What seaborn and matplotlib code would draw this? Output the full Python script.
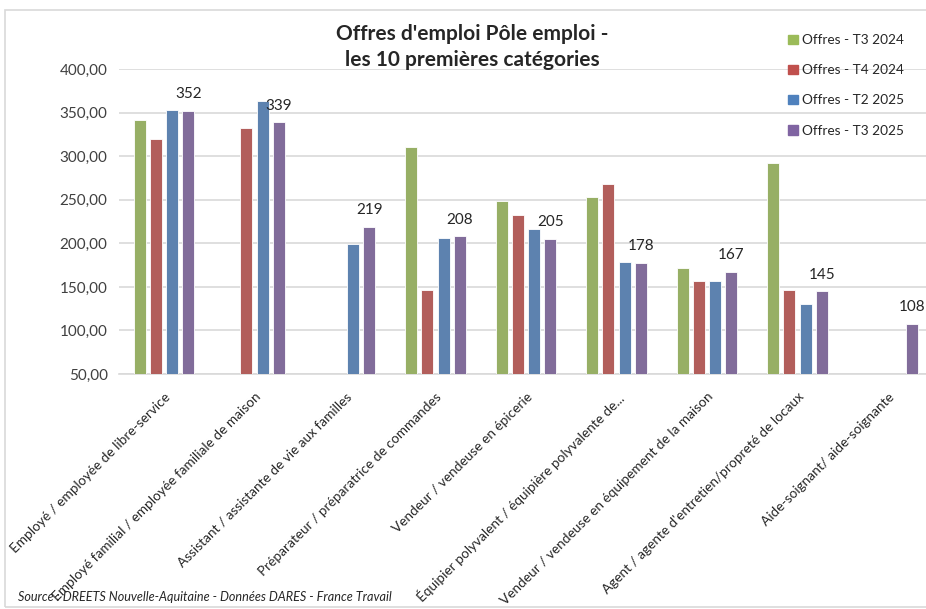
import numpy as np
import pandas as pd
import matplotlib
matplotlib.use("Agg")
import matplotlib.pyplot as plt
import seaborn as sns
from matplotlib.patches import Rectangle

categories = [
    "Employé / employée de libre-service",
    "Employé familial / employée familiale de maison",
    "Assistant / assistante de vie aux familles",
    "Préparateur / préparatrice de commandes",
    "Vendeur / vendeuse en épicerie",
    "Équipier polyvalent / équipière polyvalente de...",
    "Vendeur / vendeuse en équipement de la maison",
    "Agent / agente d'entretien/propreté de locaux",
    "Aide-soignant/ aide-soignante",
]
series = ["Offres - T3 2024", "Offres - T4 2024", "Offres - T2 2025", "Offres - T3 2025"]
t3_2024 = [342, np.nan, np.nan, 311, 249, 253, 172, 292, np.nan]
t4_2024 = [320, 333, np.nan, 146, 233, 268, 157, 146, np.nan]
t2_2025 = [353, 364, 199, 206, 216, 179, 157, 130, np.nan]
t3_2025 = [352, 339, 219, 208, 205, 178, 167, 145, 108]
colors = ["#9BBB59", "#C0504D", "#4F81BD", "#8064A2"]
yticks = [50, 100, 150, 200, 250, 300, 350, 400]

rows = []
for s, vals in zip(series, [t3_2024, t4_2024, t2_2025, t3_2025]):
    for c, v in zip(categories, vals):
        if not np.isnan(v):
            rows.append({"cat": c, "serie": s, "val": v})
df = pd.DataFrame(rows)

sns.set_style("white")
plt.rcParams["font.family"] = ["Lato", "DejaVu Sans"]

fig = plt.figure(figsize=(9.26, 6.09), dpi=100)
ax = fig.add_axes([118.75 / 926, 1 - 374 / 609, (933.25 - 118.75) / 926, (374 - 69.3) / 609])

sns.barplot(data=df, x="cat", y="val", hue="serie", order=categories, hue_order=series,
            palette=colors, errorbar=None, width=0.72, gap=0.26, ax=ax,
            edgecolor="white", linewidth=0.6, zorder=3)

ax.set_ylim(50, 400)
ax.set_xlim(-0.5, 8.5)
ax.set_yticks(yticks)
ax.set_yticklabels([f"{v:.2f}".replace(".", ",") for v in yticks], fontsize=11, color="#404040")
ax.yaxis.grid(True, color="#d9d9d9", linewidth=1.2, zorder=0)
ax.set_axisbelow(True)
ax.set_xlabel("")
ax.set_ylabel("")
for sp in ["top", "right", "left"]:
    ax.spines[sp].set_visible(False)
ax.spines["bottom"].set_color("#d9d9d9")
ax.spines["bottom"].set_linewidth(1.2)
ax.tick_params(axis="both", length=0, pad=8)
ax.set_xticks(range(len(categories)))
ax.set_xticklabels(categories, rotation=45, ha="right", rotation_mode="anchor",
                   fontsize=9.8, color="#262626")
ax.tick_params(axis="x", pad=12)

purple = ax.containers[-1]
ax.bar_label(purple, labels=[f"{int(v)}" for v in t3_2025], padding=7, fontsize=11, color="#262626")

leg = ax.legend_
leg.remove()
handles = [Rectangle((0, 0), 1, 1, color=c) for c in colors]
fig.legend(handles, series, loc="upper left", bbox_to_anchor=(776 / 926, 1 - 22 / 609),
           frameon=False, fontsize=9.8, handlelength=0.7, handleheight=0.7,
           handletextpad=0.3, labelspacing=1.33, labelcolor="#262626")

fig.text(472 / 926, 1 - 47 / 609, "Offres d'emploi Pôle emploi -\nles 10 premières catégories",
         ha="center", va="center", fontsize=15, fontweight="bold", linespacing=1.4)
fig.text(18 / 926, 1 - 597 / 609, "Source : DREETS Nouvelle-Aquitaine - Données DARES - France Travail",
         ha="left", va="center", fontsize=9.1, style="italic", color="#262626")

fig.patches.append(Rectangle((5 / 926, 2 / 609), 1.0, 1 - 12 / 609, transform=fig.transFigure,
                             fill=False, edgecolor="#d9d9d9", linewidth=1.2))

fig.savefig("out.png", dpi=100)
